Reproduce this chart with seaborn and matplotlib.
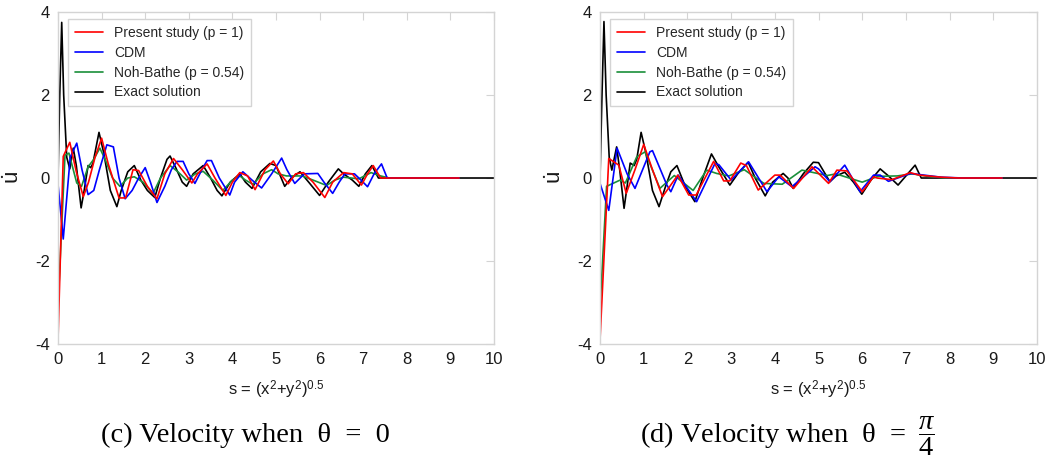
import numpy as np
import pandas as pd
import seaborn as sns
import matplotlib.pyplot as plt

# ---------------------------------------------------------------
# Data (s, velocity)
# ---------------------------------------------------------------

# (c) theta = 0
c_exact_s = [0.0, 0.04, 0.085, 0.13, 0.2, 0.27, 0.35, 0.42, 0.53, 0.6, 0.69, 0.75, 0.8,
             0.94, 1.05, 1.2, 1.35, 1.45, 1.6, 1.75, 1.9, 2.05, 2.22, 2.35, 2.5, 2.57,
             2.7, 2.85, 2.95, 3.1, 3.33, 3.5, 3.65, 3.76, 3.95, 4.17, 4.3, 4.45, 4.65,
             4.86, 5.0, 5.2, 5.35, 5.55, 5.75, 6.0, 6.2, 6.43, 6.55, 6.75, 6.9, 7.05,
             7.2, 7.35, 10.0]
c_exact_v = [0.0, 2.0, 3.75, 2.0, 0.5, 0.22, 0.72, 0.3, -0.72, -0.3, 0.3, 0.25, 0.35,
             1.1, 0.6, -0.3, -0.69, -0.3, 0.15, 0.3, -0.05, -0.3, -0.47, 0.0, 0.45, 0.53,
             0.25, -0.1, -0.2, 0.1, 0.3, 0.0, -0.3, -0.43, -0.1, 0.1, -0.1, -0.25, 0.15,
             0.35, 0.3, -0.2, 0.0, 0.15, -0.1, -0.42, -0.1, 0.22, 0.1, -0.05, -0.2, 0.1,
             0.3, 0.0, 0.0]

c_present_s = [0.0, 0.12, 0.27, 0.42, 0.58, 0.7, 0.85, 1.0, 1.15, 1.4, 1.55, 1.72, 1.85,
               2.05, 2.27, 2.45, 2.65, 2.85, 3.07, 3.2, 3.42, 3.6, 3.85, 4.0, 4.17, 4.35,
               4.52, 4.75, 4.94, 5.1, 5.28, 5.45, 5.63, 5.85, 6.12, 6.3, 6.55, 6.75, 6.96,
               7.1, 7.23, 7.4, 9.2]
c_present_v = [-3.9, 0.52, 0.86, 0.15, -0.45, -0.1, 0.5, 0.96, 0.35, -0.48, -0.48, 0.2, 0.18,
               -0.2, -0.5, 0.1, 0.47, 0.2, -0.12, 0.1, 0.34, 0.0, -0.42, -0.1, 0.13, 0.05,
               -0.28, 0.2, 0.41, 0.1, -0.14, 0.1, 0.13, -0.1, -0.47, -0.1, 0.13, 0.1, -0.17,
               0.1, 0.3, 0.0, 0.0]

c_cdm_s = [0.0, 0.12, 0.28, 0.43, 0.55, 0.69, 0.82, 0.95, 1.12, 1.27, 1.4, 1.54, 1.7, 1.85,
           2.0, 2.12, 2.27, 2.45, 2.6, 2.73, 2.87, 3.0, 3.14, 3.3, 3.42, 3.52, 3.7, 3.94,
           4.05, 4.24, 4.45, 4.67, 4.9, 5.13, 5.25, 5.43, 5.65, 5.96, 6.1, 6.3, 6.45, 6.58,
           6.8, 6.95, 7.1, 7.25, 7.42, 7.55, 9.2]
c_cdm_v = [-0.15, -1.47, 0.5, 0.84, 0.2, -0.4, -0.3, 0.2, 0.8, 0.75, 0.0, -0.5, -0.3, 0.0,
           0.25, -0.1, -0.59, -0.2, 0.2, 0.4, 0.4, 0.1, -0.13, 0.2, 0.42, 0.42, 0.0, -0.41,
           -0.1, 0.15, -0.05, -0.24, 0.1, 0.48, 0.2, -0.13, 0.1, 0.11, -0.1, -0.37, -0.1, 0.1,
           0.1, -0.05, -0.21, 0.1, 0.34, 0.0, 0.0]

c_noh_s = [0.0, 0.16, 0.25, 0.43, 0.54, 0.69, 0.82, 0.96, 1.1, 1.25, 1.42, 1.6, 1.75, 1.95,
           2.18, 2.35, 2.57, 2.75, 2.95, 3.15, 3.33, 3.55, 3.78, 4.0, 4.17, 4.3, 4.47, 4.7,
           4.9, 5.05, 5.24, 5.6, 5.85, 6.16, 6.35, 6.55, 6.9, 7.18, 7.4, 7.6, 9.2]
c_noh_v = [-3.1, 0.55, 0.6, -0.12, -0.2, 0.27, 0.45, 0.72, 0.4, 0.0, -0.2, 0.0, 0.03, -0.1,
           -0.37, 0.0, 0.3, 0.15, -0.05, 0.1, 0.16, -0.05, -0.3, -0.05, 0.05, -0.05, -0.15, 0.1,
           0.2, 0.1, 0.05, 0.05, -0.05, -0.18, -0.05, 0.02, -0.02, 0.13, 0.05, 0.0, 0.0]

# (d) theta = pi/4
d_exact_s = [0.0, 0.045, 0.09, 0.14, 0.21, 0.27, 0.38, 0.45, 0.55, 0.62, 0.69, 0.78, 0.84,
             0.94, 1.05, 1.2, 1.35, 1.5, 1.62, 1.76, 1.95, 2.17, 2.35, 2.55, 2.7, 2.97,
             3.15, 3.39, 3.55, 3.78, 3.95, 4.19, 4.3, 4.42, 4.65, 4.88, 5.0, 5.26, 5.4,
             5.6, 5.8, 5.99, 6.2, 6.41, 6.6, 6.82, 7.0, 7.21, 7.35, 10.0]
d_exact_v = [0.0, 2.0, 3.77, 2.0, 0.5, 0.19, 0.75, 0.2, -0.73, -0.2, 0.36, 0.3, 0.45,
             1.1, 0.6, -0.3, -0.69, -0.2, 0.15, 0.3, -0.2, -0.57, 0.0, 0.58, 0.3, -0.17,
             0.1, 0.38, 0.0, -0.43, -0.1, 0.11, 0.0, -0.25, 0.1, 0.38, 0.37, -0.09, 0.05,
             0.14, -0.1, -0.39, -0.05, 0.22, 0.05, -0.17, 0.05, 0.31, 0.0, 0.0]

d_present_s = [0.0, 0.2, 0.43, 0.6, 0.8, 1.0, 1.2, 1.43, 1.78, 2.03, 2.2, 2.6, 2.83, 2.97,
               3.22, 3.35, 3.62, 4.0, 4.12, 4.43, 4.85, 5.23, 5.42, 5.65, 6.0, 6.26, 6.34,
               6.68, 7.1, 7.3, 7.8, 8.2, 9.2]
d_present_v = [-3.9, 0.47, 0.31, -0.37, 0.2, 0.81, 0.2, -0.45, 0.07, -0.41, -0.41, 0.4, -0.07,
               -0.07, 0.36, 0.3, -0.29, 0.07, 0.07, -0.25, 0.27, -0.13, 0.19, 0.17, -0.33, 0.03,
               0.0, -0.04, 0.13, 0.07, 0.02, 0.0, 0.0]

d_cdm_s = [0.0, 0.2, 0.39, 0.62, 0.8, 1.14, 1.2, 1.53, 1.62, 1.79, 2.21, 2.63, 2.72, 3.0,
           3.4, 3.82, 4.09, 4.39, 4.92, 5.0, 5.26, 5.6, 5.95, 6.26, 6.41, 6.6, 7.1, 7.8,
           8.3, 9.2]
d_cdm_v = [-0.13, -0.78, 0.72, 0.1, -0.25, 0.63, 0.66, -0.17, -0.33, 0.07, -0.57, 0.35, 0.32,
           -0.05, 0.39, -0.33, 0.03, -0.21, 0.27, 0.22, -0.09, 0.31, -0.33, 0.07, 0.07, -0.08,
           0.11, 0.02, 0.0, 0.0]

d_noh_s = [0.0, 0.15, 0.46, 0.58, 0.84, 1.03, 1.37, 1.7, 2.13, 2.44, 2.67, 2.95, 3.3, 3.75,
           4.17, 4.62, 4.8, 5.2, 5.4, 5.7, 6.0, 6.36, 6.8, 7.15, 7.5, 7.9, 9.2]
d_noh_v = [-3.15, -0.2, -0.05, -0.12, 0.51, 0.63, -0.25, 0.06, -0.3, 0.19, 0.11, 0.05, 0.2,
           -0.13, -0.15, 0.19, 0.15, 0.06, 0.1, 0.0, -0.1, 0.04, 0.05, 0.1, 0.04, 0.0, 0.0]

labels = ['Present study (p = 1)', 'CDM', 'Noh-Bathe (p = 0.54)', 'Exact solution']
colors = ['#ff0000', '#0000ff', '#1a8f3a', '#000000']
captions = ['(c) Velocity when  θ  =  0', r'(d) Velocity when  θ  = $\;\dfrac{\pi}{4}$']

panels = [
    [(c_present_s, c_present_v), (c_cdm_s, c_cdm_v), (c_noh_s, c_noh_v), (c_exact_s, c_exact_v)],
    [(d_present_s, d_present_v), (d_cdm_s, d_cdm_v), (d_noh_s, d_noh_v), (d_exact_s, d_exact_v)],
]

# ---------------------------------------------------------------
# Style
# ---------------------------------------------------------------
sns.set_style('white')
plt.rcParams['font.family'] = ['Liberation Sans', 'DejaVu Sans']
plt.rcParams['axes.unicode_minus'] = False
plt.rcParams['mathtext.fontset'] = 'custom'
plt.rcParams['mathtext.rm'] = 'Liberation Serif'
plt.rcParams['mathtext.it'] = 'Liberation Serif:italic'
plt.rcParams['mathtext.sf'] = 'Liberation Sans'

grey = '#d4d4d4'

fig = plt.figure(figsize=(10.49, 4.62), dpi=100)
ax_pos = [[0.0553, 0.2554, 0.4156, 0.7186], [0.572, 0.2554, 0.4166, 0.7186]]
cap_x = [0.2336, 0.751]

# draw order: exact first, then Noh-Bathe, CDM, present study on top
draw_order = [3, 2, 1, 0]

for p, series in enumerate(panels):
    ax = fig.add_axes(ax_pos[p])
    for i in draw_order:
        s, v = series[i]
        df = pd.DataFrame({'s': s, 'v': v})
        sns.lineplot(data=df, x='s', y='v', color=colors[i], linewidth=1.2,
                     label=labels[i], sort=False, estimator=None, ax=ax)

    ax.set_xlim(0, 10)
    ax.set_ylim(-4, 4)
    ax.set_xticks(range(0, 11))
    ax.set_yticks([-4, -2, 0, 2, 4])
    ax.tick_params(direction='in', top=True, right=True, length=6, width=0.8,
                   color=grey, labelsize=12, labelcolor='#1a1a1a', pad=6)
    for sp in ax.spines.values():
        sp.set_color(grey)
        sp.set_linewidth(1.0)

    ax.set_xlabel(r's = (x$^\mathsf{2}$+y$^\mathsf{2}$)$^\mathsf{0.5}$', fontsize=12,
                  labelpad=8, color='#1a1a1a')
    ax.set_ylabel(r'$\dot{\mathsf{u}}$', fontsize=16, color='#1a1a1a')
    ax.yaxis.set_label_coords(-0.078, 0.5)

    handles, labs = ax.get_legend_handles_labels()
    order = [labs.index(l) for l in labels]
    ax.legend([handles[k] for k in order], labels, loc='upper left',
              bbox_to_anchor=(0.023, 0.979), borderaxespad=0, fontsize=10,
              frameon=True, fancybox=False, framealpha=1, edgecolor=grey,
              handlelength=2.0, handletextpad=0.8, labelspacing=0.42, borderpad=0.5)

    fig.text(cap_x[p], 0.043, captions[p], ha='center', va='baseline',
             fontsize=20.5, family=['Liberation Serif', 'DejaVu Serif'], color='black')

fig.savefig('out.png', dpi=100)
